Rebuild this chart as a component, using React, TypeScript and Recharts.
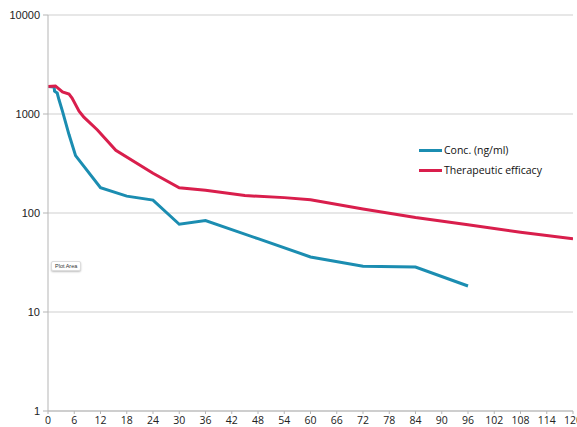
import { LineChart, Line, XAxis, YAxis, CartesianGrid } from "recharts";

// hours after dose
const concHours = [0, 1.4, 1.5, 2.1, 2.5, 3.3, 4.8, 6.3, 12, 18, 24, 30, 36, 48, 60, 72, 84, 96];
const concValues = [1900, 1870, 1700, 1630, 1400, 1070, 620, 380, 180, 148, 135, 77, 84, 55, 36, 29, 28.5, 18.3];

const effHours = [0, 1.7, 3.3, 4.8, 5.5, 7.1, 8.2, 11.3, 15.5, 24, 30, 36, 45, 54, 60, 72, 84, 96, 108, 120];
const effValues = [1900, 1920, 1670, 1590, 1450, 1070, 930, 690, 430, 252, 180, 170, 150, 143, 136, 110, 90, 76, 64, 55];

const xTicks = [0, 6, 12, 18, 24, 30, 36, 42, 48, 54, 60, 66, 72, 78, 84, 90, 96, 102, 108, 114, 120];
const yTicks = [1, 10, 100, 1000, 10000];

const BLUE = "#1b8db1";
const RED = "#d91e4c";

const concData = concHours.map((h, i) => ({ hour: h, value: concValues[i] }));
const effData = effHours.map((h, i) => ({ hour: h, value: effValues[i] }));

function LegendBox() {
  const items = [
    { label: "Conc. (ng/ml)", color: BLUE },
    { label: "Therapeutic efficacy", color: RED },
  ];
  return (
    <div style={{ position: "absolute", left: 419, top: 140 }}>
      {items.map((it) => (
        <div key={it.label} style={{ display: "flex", alignItems: "center", height: 20 }}>
          <div style={{ width: 23, height: 3, background: it.color, marginRight: 2 }} />
          <span style={{ fontFamily: "Open Sans", fontSize: 10.5, color: "#111" }}>{it.label}</span>
        </div>
      ))}
    </div>
  );
}

export default function App() {
  return (
    <div style={{ position: "absolute", left: 0, top: 0, width: 577, height: 427, background: "#fff", overflow: "hidden" }}>
      <LineChart width={577} height={427} margin={{ top: 15, right: 4, bottom: 0, left: 0 }}>
        <CartesianGrid vertical={false} stroke="#cfcfcf" />
        <XAxis
          dataKey="hour"
          type="number"
          domain={[0, 120]}
          ticks={xTicks}
          interval={0}
          height={16}
          tickSize={3}
          tickMargin={3}
          stroke="#b5b5b5"
          tick={{ fill: "#222", fontSize: 10.5, fontFamily: "Open Sans" }}
          allowDataOverflow
        />
        <YAxis
          type="number"
          scale="log"
          domain={[1, 10000]}
          ticks={yTicks}
          interval={0}
          width={48}
          tickSize={5}
          tickMargin={3}
          stroke="#b5b5b5"
          tick={{ fill: "#222", fontSize: 11, fontFamily: "Liberation Sans" }}
          allowDataOverflow
        />
        <Line data={concData} dataKey="value" stroke={BLUE} strokeWidth={3} dot={false} isAnimationActive={false} />
        <Line data={effData} dataKey="value" stroke={RED} strokeWidth={3} dot={false} isAnimationActive={false} />
      </LineChart>
      <LegendBox />
      <div
        style={{
          position: "absolute",
          left: 51,
          top: 261,
          padding: "1px 3px",
          fontFamily: "Liberation Sans",
          fontSize: 5.5,
          color: "#333",
          background: "#fff",
          border: "1px solid #ddd",
          borderRadius: 2,
          boxShadow: "0 1px 2px rgba(0,0,0,0.25)",
        }}
      >
        Plot Area
      </div>
    </div>
  );
}
